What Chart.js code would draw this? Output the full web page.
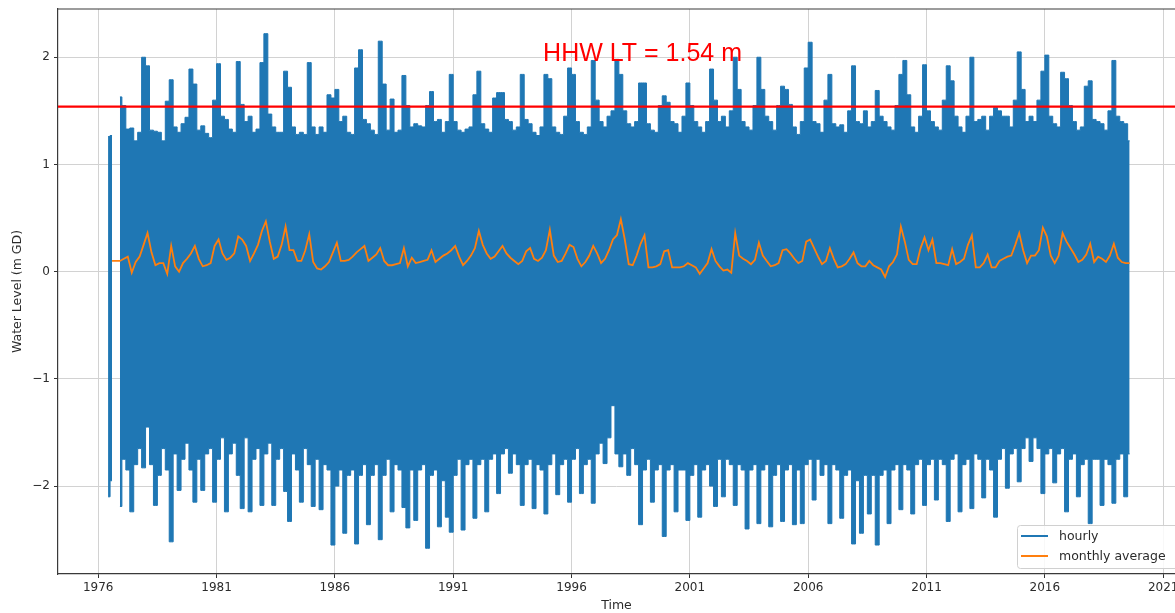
<!DOCTYPE html>
<html>
<head>
<meta charset="utf-8">
<script src="https://cdn.jsdelivr.net/npm/chart.js@4.4.1/dist/chart.umd.min.js"></script>
<style>
  html, body { margin: 0; padding: 0; background: #ffffff; overflow: hidden; }
  canvas { display: block; }
</style>
</head>
<body>
<canvas id="chart" width="1175" height="613"></canvas>
<script>
// Two-month bins (decimal years), first bin centred at 1976 + 5/12
const SAMPLE_START = 1976 + 5 / 12;
const SAMPLE_STEP = 1 / 6;

// Highest hourly water level in each bin (m GD); null = no record
const hourlyHigh = [
  1.26, 1.27, null, 1.63,                 // 1976
  1.55, 1.33, 1.34, 1.22, 1.30, 2.00,     // 1977
  1.92, 1.32, 1.31, 1.30, 1.22, 1.59,     // 1978
  1.79, 1.35, 1.30, 1.38, 1.44, 1.89,     // 1979
  1.75, 1.32, 1.36, 1.29, 1.25, 1.60,     // 1980
  1.94, 1.45, 1.42, 1.33, 1.30, 1.96,     // 1981
  1.56, 1.40, 1.45, 1.30, 1.33, 1.95,     // 1982
  2.22, 1.47, 1.35, 1.30, 1.30, 1.87,     // 1983
  1.72, 1.35, 1.28, 1.30, 1.28, 1.95,     // 1984
  1.35, 1.28, 1.35, 1.30, 1.65, 1.62,     // 1985
  1.70, 1.40, 1.45, 1.30, 1.28, 1.90,     // 1986
  2.07, 1.42, 1.38, 1.32, 1.28, 2.15,     // 1987
  1.75, 1.32, 1.61, 1.30, 1.32, 1.83,     // 1988
  1.55, 1.35, 1.38, 1.36, 1.35, 1.55,     // 1989
  1.68, 1.40, 1.42, 1.30, 1.40, 1.84,     // 1990
  1.40, 1.32, 1.30, 1.33, 1.35, 1.65,     // 1991
  1.87, 1.38, 1.33, 1.30, 1.62, 1.67,     // 1992
  1.67, 1.42, 1.40, 1.32, 1.35, 1.84,     // 1993
  1.42, 1.38, 1.30, 1.27, 1.35, 1.84,     // 1994
  1.80, 1.35, 1.30, 1.28, 1.45, 1.90,     // 1995
  1.84, 1.40, 1.30, 1.28, 1.35, 1.97,     // 1996
  1.60, 1.40, 1.35, 1.45, 1.50, 1.98,     // 1997
  1.84, 1.50, 1.38, 1.35, 1.40, 1.76,     // 1998
  1.76, 1.38, 1.32, 1.30, 1.55, 1.64,     // 1999
  1.58, 1.40, 1.38, 1.30, 1.45, 1.76,     // 2000
  1.55, 1.40, 1.35, 1.30, 1.40, 1.89,     // 2001
  1.60, 1.40, 1.45, 1.35, 1.50, 2.00,     // 2002
  1.70, 1.40, 1.35, 1.32, 1.55, 2.00,     // 2003
  1.70, 1.45, 1.40, 1.32, 1.55, 1.73,     // 2004
  1.70, 1.56, 1.35, 1.28, 1.40, 1.90,     // 2005
  2.14, 1.40, 1.38, 1.30, 1.60, 1.84,     // 2006
  1.38, 1.35, 1.37, 1.30, 1.50, 1.92,     // 2007
  1.40, 1.38, 1.50, 1.35, 1.40, 1.69,     // 2008
  1.45, 1.40, 1.35, 1.32, 1.55, 1.84,     // 2009
  1.97, 1.65, 1.35, 1.30, 1.45, 1.93,     // 2010
  1.50, 1.40, 1.35, 1.32, 1.60, 1.92,     // 2011
  1.78, 1.45, 1.35, 1.30, 1.45, 2.00,     // 2012
  1.40, 1.42, 1.45, 1.32, 1.45, 1.53,     // 2013
  1.50, 1.45, 1.45, 1.35, 1.60, 2.05,     // 2014
  1.70, 1.40, 1.45, 1.40, 1.60, 1.87,     // 2015
  2.02, 1.45, 1.38, 1.35, 1.86, 1.80,     // 2016
  1.55, 1.40, 1.32, 1.35, 1.73, 1.78,     // 2017
  1.42, 1.40, 1.38, 1.32, 1.50, 1.97,     // 2018
  1.45, 1.40, 1.38, 1.22                  // 2019
];

// Lowest hourly water level in each bin (m GD)
const hourlyLow = [
  -2.10, -1.95, null, -2.19,
  -1.75, -1.85, -2.24, -1.80, -1.65, -1.83,
  -1.45, -1.80, -2.18, -1.90, -1.65, -1.85,
  -2.52, -1.70, -2.04, -1.75, -1.60, -1.85,
  -2.15, -1.75, -2.04, -1.70, -1.65, -2.15,
  -1.75, -1.55, -2.24, -1.70, -1.60, -1.90,
  -2.21, -1.55, -2.24, -1.75, -1.65, -2.18,
  -1.70, -1.60, -2.18, -1.75, -1.65, -2.05,
  -2.33, -1.70, -1.85, -2.15, -1.65, -1.80,
  -2.19, -1.75, -2.22, -1.80, -1.85, -2.55,
  -2.00, -1.85, -2.44, -1.90, -1.85, -2.54,
  -1.90, -1.80, -2.36, -1.90, -1.80, -2.50,
  -1.90, -1.75, -2.24, -1.80, -1.85, -2.20,
  -2.39, -1.85, -2.32, -1.85, -1.80, -2.58,
  -1.90, -1.85, -2.38, -1.95, -2.29, -2.43,
  -1.90, -1.75, -2.41, -1.80, -1.75, -2.30,
  -1.80, -1.75, -2.24, -1.75, -1.70, -2.07,
  -1.70, -1.65, -1.88, -1.70, -1.80, -2.18,
  -1.80, -1.75, -2.21, -1.80, -1.85, -2.26,
  -1.80, -1.70, -2.08, -1.80, -1.75, -2.15,
  -1.75, -1.65, -2.07, -1.80, -1.75, -2.16,
  -1.70, -1.60, -1.79, -1.55, -1.25, -1.70,
  -1.82, -1.70, -1.90, -1.65, -1.80, -2.36,
  -1.85, -1.75, -2.15, -1.85, -1.80, -2.47,
  -1.85, -1.80, -2.24, -1.85, -1.85, -2.32,
  -1.90, -1.80, -2.29, -1.85, -1.80, -2.00,
  -2.19, -1.75, -2.10, -1.75, -1.80, -2.18,
  -1.80, -1.85, -2.40, -1.85, -1.80, -2.35,
  -1.85, -1.80, -2.38, -1.90, -1.80, -2.33,
  -1.85, -1.80, -2.36, -1.85, -2.35, -1.80,
  -1.75, -2.13, -1.75, -1.90, -1.80, -2.35,
  -1.80, -1.85, -2.30, -1.90, -1.85, -2.54,
  -1.95, -2.44, -1.90, -2.26, -1.90, -2.55,
  -1.90, -1.85, -2.35, -1.85, -1.80, -2.22,
  -1.80, -1.85, -2.26, -1.80, -1.75, -2.18,
  -1.80, -1.75, -2.13, -1.75, -1.80, -2.33,
  -1.75, -1.70, -2.24, -1.80, -1.75, -2.21,
  -1.70, -1.75, -2.11, -1.75, -1.85, -2.29,
  -1.75, -1.65, -2.02, -1.70, -1.65, -1.96,
  -1.65, -1.55, -1.77, -1.55, -1.65, -2.07,
  -1.70, -1.65, -1.97, -1.70, -1.65, -2.24,
  -1.75, -1.70, -2.10, -1.80, -1.75, -2.35,
  -1.75, -1.75, -2.18, -1.75, -1.80, -2.16,
  -1.75, -1.70, -2.10, -1.70
];

// Monthly mean water level, taken at the same bins (m GD)
const monthlyMean = [
  null, 0.10, 0.10, 0.10,
  0.12, 0.14, -0.01, 0.09, 0.14, 0.25,
  0.36, 0.18, 0.06, 0.08, 0.08, -0.02,
  0.24, 0.05, 0.00, 0.08, 0.12, 0.17,
  0.24, 0.12, 0.05, 0.06, 0.08, 0.24,
  0.30, 0.17, 0.11, 0.13, 0.17, 0.33,
  0.30, 0.24, 0.10, 0.17, 0.25, 0.38,
  0.47, 0.28, 0.12, 0.14, 0.25, 0.42,
  0.20, 0.20, 0.10, 0.10, 0.20, 0.35,
  0.09, 0.03, 0.02, 0.05, 0.09, 0.18,
  0.27, 0.10, 0.10, 0.11, 0.14, 0.18,
  0.21, 0.24, 0.10, 0.13, 0.16, 0.22,
  0.10, 0.06, 0.06, 0.07, 0.08, 0.22,
  0.05, 0.13, 0.08, 0.09, 0.10, 0.11,
  0.20, 0.09, 0.12, 0.15, 0.17, 0.20,
  0.24, 0.14, 0.06, 0.10, 0.15, 0.22,
  0.38, 0.25, 0.17, 0.12, 0.14, 0.19,
  0.24, 0.17, 0.13, 0.10, 0.07, 0.10,
  0.19, 0.22, 0.12, 0.10, 0.13, 0.20,
  0.39, 0.15, 0.09, 0.10, 0.17, 0.25,
  0.23, 0.12, 0.05, 0.09, 0.15, 0.24,
  0.17, 0.08, 0.12, 0.20, 0.30, 0.34,
  0.49, 0.30, 0.07, 0.06, 0.15, 0.26,
  0.34, 0.04, 0.04, 0.05, 0.07, 0.19,
  0.20, 0.04, 0.04, 0.04, 0.05, 0.08,
  0.06, 0.04, -0.02, 0.03, 0.08, 0.21,
  0.10, 0.05, 0.01, 0.02, -0.01, 0.36,
  0.15, 0.12, 0.10, 0.07, 0.11, 0.27,
  0.15, 0.10, 0.05, 0.06, 0.08, 0.20,
  0.21, 0.17, 0.12, 0.08, 0.10, 0.28,
  0.30, 0.22, 0.14, 0.07, 0.10, 0.22,
  0.12, 0.04, 0.05, 0.07, 0.12, 0.18,
  0.08, 0.05, 0.05, 0.10, 0.06, 0.04,
  0.02, -0.05, 0.05, 0.09, 0.16, 0.42,
  0.28, 0.11, 0.07, 0.07, 0.22, 0.32,
  0.20, 0.30, 0.08, 0.08, 0.07, 0.06,
  0.21, 0.07, 0.09, 0.12, 0.25, 0.34,
  0.04, 0.04, 0.08, 0.16, 0.04, 0.04,
  0.10, 0.12, 0.14, 0.15, 0.25, 0.36,
  0.20, 0.08, 0.15, 0.15, 0.20, 0.41,
  0.33, 0.15, 0.08, 0.15, 0.36, 0.28,
  0.22, 0.16, 0.09, 0.11, 0.16, 0.26,
  0.09, 0.14, 0.12, 0.09, 0.15, 0.26,
  0.13, 0.09, 0.08, 0.08
];

// Reference level: highest high water, long term (m GD)
const HHW_LT = 1.54;

// Axis ticks and ranges
const yearTicks = [1976, 1981, 1986, 1991, 1996, 2001, 2006, 2011, 2016, 2021];
const levelTicks = [-2, -1, 0, 1, 2];
const X_RANGE = [1974.3, 2021.5];
const Y_RANGE = [-2.82, 2.45];

const BLUE = '#1f77b4';
const ORANGE = '#ff7f0e';
const RED = '#ff0000';
const TEXT = '#2b2b2b';
const FONT = '"DejaVu Sans", sans-serif';

const binTimes = hourlyHigh.map((_, i) => SAMPLE_START + i * SAMPLE_STEP);
const asPoints = (values) => values.map((v, i) => ({ x: binTimes[i], y: v }));

// Closes the plot frame along the top edge
const framePlugin = {
  id: 'frame',
  afterDatasetsDraw(chart) {
    const { ctx, chartArea: a } = chart;
    ctx.save();
    ctx.strokeStyle = '#3a3a3a';
    ctx.lineWidth = 1.2;
    ctx.beginPath();
    ctx.moveTo(a.left, a.top);
    ctx.lineTo(a.right, a.top);
    ctx.stroke();
    ctx.restore();
  }
};

// Red label naming the reference level
const levelLabelPlugin = {
  id: 'levelLabel',
  afterDatasetsDraw(chart) {
    const { ctx, scales } = chart;
    ctx.save();
    ctx.fillStyle = RED;
    ctx.font = '25px "Liberation Sans", Arial, sans-serif';
    ctx.textAlign = 'center';
    ctx.textBaseline = 'alphabetic';
    ctx.fillText(`HHW LT = ${HHW_LT} m`, scales.x.getPixelForValue(1999.0), scales.y.getPixelForValue(1.965));
    ctx.restore();
  }
};

// Boxed legend in the lower-right corner of the plot
const boxLegendPlugin = {
  id: 'boxLegend',
  afterDraw(chart) {
    const { ctx, chartArea: a } = chart;
    const entries = chart.data.datasets.filter(d => d.showInLegend);
    const rowH = 20;
    const w = 165, h = 23 + rowH * (entries.length - 1);
    const left = a.right - 158, bottom = a.bottom - 6, top = bottom - h;
    ctx.save();
    ctx.fillStyle = 'rgba(255,255,255,0.85)';
    ctx.strokeStyle = '#d0d0d0';
    ctx.lineWidth = 1;
    ctx.beginPath();
    ctx.roundRect(left + 0.5, top + 0.5, w, h, 3);
    ctx.fill();
    ctx.stroke();
    ctx.font = '12.5px ' + FONT;
    ctx.textBaseline = 'middle';
    ctx.textAlign = 'left';
    entries.forEach((d, i) => {
      const y = top + 11 + i * rowH;
      ctx.strokeStyle = d.borderColor;
      ctx.lineWidth = 2;
      ctx.beginPath();
      ctx.moveTo(left + 4, y);
      ctx.lineTo(left + 31, y);
      ctx.stroke();
      ctx.fillStyle = TEXT;
      ctx.fillText(d.label, left + 42, y + 0.5);
    });
    ctx.restore();
  }
};

new Chart(document.getElementById('chart'), {
  type: 'line',
  data: {
    datasets: [
      {
        label: 'hourly', showInLegend: true,
        data: asPoints(hourlyHigh),
        borderColor: BLUE, backgroundColor: BLUE, borderWidth: 1,
        pointRadius: 0, stepped: 'middle', fill: '+1', order: 2
      },
      {
        label: 'hourly low', showInLegend: false,
        data: asPoints(hourlyLow),
        borderColor: BLUE, backgroundColor: BLUE, borderWidth: 1,
        pointRadius: 0, stepped: 'middle', fill: false, order: 3
      },
      {
        label: 'monthly average', showInLegend: true,
        data: asPoints(monthlyMean),
        borderColor: ORANGE, borderWidth: 1.8,
        pointRadius: 0, tension: 0, fill: false, order: 1
      },
      {
        label: 'HHW LT', showInLegend: false,
        data: [{ x: X_RANGE[0], y: HHW_LT }, { x: X_RANGE[1], y: HHW_LT }],
        borderColor: RED, borderWidth: 2.2,
        pointRadius: 0, fill: false, order: 0
      }
    ]
  },
  options: {
    responsive: false,
    animation: false,
    devicePixelRatio: 1,
    events: [],
    layout: { padding: { top: 9, left: 0, right: 0, bottom: 0 } },
    plugins: { legend: { display: false }, tooltip: { enabled: false } },
    scales: {
      x: {
        type: 'linear',
        min: X_RANGE[0], max: X_RANGE[1],
        afterBuildTicks: (s) => { s.ticks = yearTicks.map(v => ({ value: v })); },
        afterFit: (s) => { s.height = 39; s.paddingLeft = 0; s.paddingRight = 0; },
        ticks: {
          callback: (v) => String(v),
          font: { family: FONT, size: 12 }, color: TEXT,
          padding: 3, maxRotation: 0, autoSkip: false
        },
        grid: { color: '#d2d2d2', lineWidth: 1, tickColor: '#333333', tickLength: 4 },
        border: { color: '#3a3a3a', width: 1.2 },
        title: {
          display: true, text: 'Time',
          font: { family: FONT, size: 12.5 }, color: TEXT,
          padding: { top: 0, bottom: 0 }
        }
      },
      y: {
        min: Y_RANGE[0], max: Y_RANGE[1],
        afterBuildTicks: (s) => { s.ticks = levelTicks.map(v => ({ value: v })); },
        afterFit: (s) => { s.width = 58; s.paddingTop = 0; s.paddingBottom = 0; },
        ticks: {
          callback: (v) => (v < 0 ? '\u2212' + Math.abs(v) : String(v)),
          font: { family: FONT, size: 12 }, color: TEXT,
          padding: 4
        },
        grid: { color: '#d2d2d2', lineWidth: 1, tickColor: '#333333', tickLength: 4 },
        border: { color: '#3a3a3a', width: 1.2 },
        title: {
          display: true, text: 'Water Level (m GD)',
          font: { family: FONT, size: 12.5 }, color: TEXT,
          padding: { top: 10, bottom: 0 }
        }
      }
    }
  },
  plugins: [framePlugin, levelLabelPlugin, boxLegendPlugin]
});
</script>
</body>
</html>
